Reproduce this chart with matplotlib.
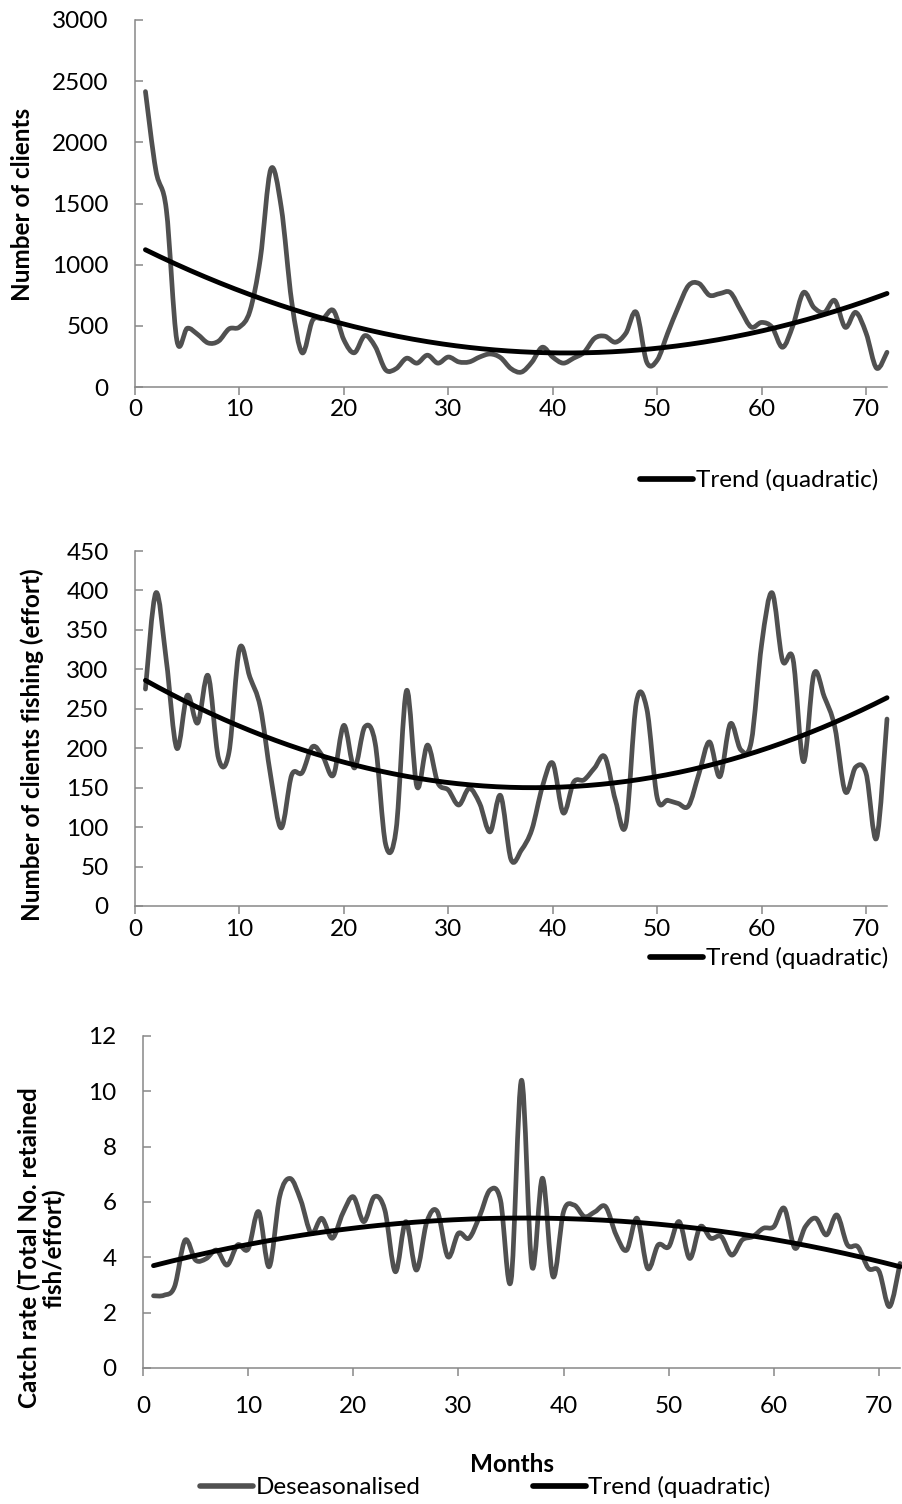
import numpy as np
import matplotlib
matplotlib.use("Agg")
import matplotlib.pyplot as plt
from matplotlib.path import Path
from matplotlib.patches import PathPatch
from matplotlib.lines import Line2D

# ---------------- data ----------------
months = list(range(1, 73))

clients = [2415, 1770, 1450, 385, 480, 430, 360, 375, 475, 490,
           620, 1050, 1780, 1470, 700, 280, 545, 560, 625, 385,
           280, 420, 330, 140, 150, 235, 195, 260, 195, 245,
           205, 205, 245, 270, 240, 150, 122, 203, 325, 244,
           195, 236, 284, 398, 415, 366, 440, 610, 203, 220,
           440, 650, 830, 846, 750, 764, 772, 626, 490, 528,
           488, 325, 504, 772, 650, 610, 707, 488, 610, 440,
           154, 284]

effort = [275, 397, 311, 200, 267, 232, 292, 187, 195, 326,
          290, 252, 164, 99, 166, 169, 202, 189, 166, 229,
          175, 227, 206, 78, 97, 273, 151, 204, 156, 147,
          128, 149, 130, 94, 140, 59, 71, 97, 151, 181,
          118, 157, 160, 175, 189, 134, 103, 258, 250, 137,
          134, 130, 127, 168, 208, 164, 231, 198, 208, 332,
          397, 311, 313, 183, 294, 265, 227, 145, 176, 168,
          86, 237]

catch_rate = [2.61, 2.63, 2.94, 4.62, 3.90, 3.95, 4.26, 3.72, 4.45, 4.30,
              5.65, 3.66, 6.20, 6.85, 6.07, 4.87, 5.41, 4.69, 5.59, 6.19,
              5.29, 6.19, 5.71, 3.48, 5.29, 3.54, 5.29, 5.65, 4.02, 4.87,
              4.69, 5.47, 6.43, 6.07, 3.15, 10.40, 3.66, 6.86, 3.30, 5.65,
              5.89, 5.47, 5.65, 5.83, 4.81, 4.26, 5.41, 3.60, 4.45, 4.38,
              5.29, 3.96, 5.11, 4.69, 4.75, 4.08, 4.63, 4.75, 5.05, 5.11,
              5.77, 4.33, 5.11, 5.41, 4.81, 5.53, 4.45, 4.38, 3.60, 3.50,
              2.22, 3.78]

# quadratic trend coefficients (a*m^2 + b*m + c)
trend_clients = [0.518, -42.85, 1164.3]
trend_effort = [0.0990, -7.537, 293.44]
trend_catch = [-0.001381, 0.10026, 3.601]

x_ticks = [0, 10, 20, 30, 40, 50, 60, 70]
y_ticks_clients = [0, 500, 1000, 1500, 2000, 2500, 3000]
y_ticks_effort = [0, 50, 100, 150, 200, 250, 300, 350, 400, 450]
y_ticks_catch = [0, 2, 4, 6, 8, 10, 12]

ylabel_clients = "Number of clients"
ylabel_effort = "Number of clients fishing (effort)"
ylabel_catch = "Catch rate (Total No. retained\nfish/effort)"
xlabel = "Months"
legend_series = "Deseasonalised"
legend_trend = "Trend (quadratic)"

# ---------------- style ----------------
plt.rcParams["font.family"] = ["Lato", "DejaVu Sans"]
W, H = 903, 1504
GREY = "#505050"
AXC = "#888888"
FS = 17.5
FS_B = 17.5
LW_S = 3.4
LW_T = 3.5

fig = plt.figure(figsize=(W / 100, H / 100), dpi=100)


def make_ax(left, top, right, bottom):
    return fig.add_axes([left / W, 1 - bottom / H, (right - left) / W, (bottom - top) / H])


def smooth_line(ax, x, y, **kw):
    x = np.asarray(x, float)
    y = np.asarray(y, float)
    n = len(x)
    verts = [(x[0], y[0])]
    codes = [Path.MOVETO]
    for i in range(n - 1):
        i0 = max(i - 1, 0)
        i3 = min(i + 2, n - 1)
        c1 = (x[i] + (x[i + 1] - x[i0]) / 6, y[i] + (y[i + 1] - y[i0]) / 6)
        c2 = (x[i + 1] - (x[i3] - x[i]) / 6, y[i + 1] - (y[i3] - y[i]) / 6)
        verts += [c1, c2, (x[i + 1], y[i + 1])]
        codes += [Path.CURVE4] * 3
    patch = PathPatch(Path(verts, codes), fill=False, capstyle="round",
                      joinstyle="round", clip_on=False, **kw)
    ax.add_patch(patch)


def style_ax(ax, yticks, ymax, xpad):
    ax.set_xlim(0, 72)
    ax.set_ylim(0, ymax)
    ax.set_xticks(x_ticks)
    ax.set_yticks(yticks)
    for s in ["top", "right"]:
        ax.spines[s].set_visible(False)
    for s in ["left", "bottom"]:
        ax.spines[s].set_color(AXC)
        ax.spines[s].set_linewidth(1.1)
    ax.tick_params(axis="y", direction="in", length=6, width=1.1, color=AXC,
                   pad=19, labelsize=FS)
    ax.tick_params(axis="x", direction="out", length=6, width=1.1, color=AXC,
                   pad=xpad, labelsize=FS)


mfine = np.linspace(1, 72, 400)

panels = [
    (make_ax(135, 20, 887, 387), clients, trend_clients, y_ticks_clients, 3000, 3),
    (make_ax(135, 551, 887, 906), effort, trend_effort, y_ticks_effort, 450, 3),
    (make_ax(143, 1036, 900, 1368), catch_rate, trend_catch, y_ticks_catch, 12, 14),
]

for ax, series, coef, yt, ymax, xpad in panels:
    style_ax(ax, yt, ymax, xpad)
    smooth_line(ax, months, series, edgecolor=GREY, linewidth=LW_S, zorder=3)
    ax.plot(mfine, np.polyval(coef, mfine), color="black", linewidth=LW_T,
            solid_capstyle="round", zorder=4, clip_on=False)

# y labels
fig.text(23 / W, 1 - 204 / H, ylabel_clients, rotation=90, ha="center", va="center",
         fontsize=FS_B, fontweight="bold")
fig.text(32 / W, 1 - 745 / H, ylabel_effort, rotation=90, ha="center", va="center",
         fontsize=FS_B, fontweight="bold")
fig.text(42 / W, 1 - 1248 / H, ylabel_catch, rotation=90, ha="center", va="center",
         fontsize=FS_B, fontweight="bold", multialignment="center", linespacing=1.05)
fig.text(512 / W, 1 - 1464 / H, xlabel, ha="center", va="center",
         fontsize=FS_B, fontweight="bold")

# legends
h_s = Line2D([], [], color=GREY, linewidth=LW_S + 0.6, solid_capstyle="round")
h_t = Line2D([], [], color="black", linewidth=LW_T + 0.6, solid_capstyle="round")

common = dict(frameon=False, fontsize=FS, borderpad=0, borderaxespad=0,
              handlelength=2.2, handletextpad=0.1, loc="center left")
fig.legend([h_t], [legend_trend], bbox_to_anchor=(640 / W, 1 - 480 / H), **common)
fig.legend([h_t], [legend_trend], bbox_to_anchor=(650 / W, 1 - 958 / H), **common)
fig.legend([h_s, h_t], [legend_series, legend_trend], ncol=2, columnspacing=4.6,
           bbox_to_anchor=(200 / W, 1 - 1487 / H), **common)

fig.savefig("out.png", dpi=100)
